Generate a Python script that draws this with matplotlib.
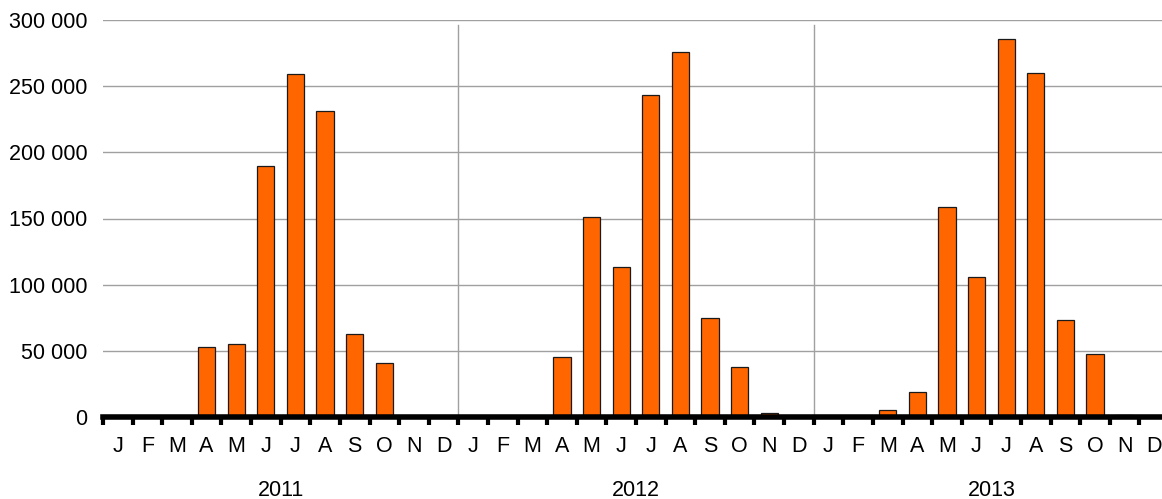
import numpy as np
import matplotlib
matplotlib.use("Agg")
import matplotlib.pyplot as plt
from matplotlib.ticker import FuncFormatter, FixedLocator

plt.rcParams["font.family"] = ["Liberation Sans", "DejaVu Sans"]

YEARS = ["2011", "2012", "2013"]
MONTH_LETTERS = ["J", "F", "M", "A", "M", "J", "J", "A", "S", "O", "N", "D"]

VALUES_2011 = [0, 0, 0, 53000, 55000, 190000, 259000, 231000, 63000, 41000, 0, 0]
VALUES_2012 = [0, 0, 0, 45000, 151000, 113000, 243000, 276000, 75000, 38000, 3000, 0]
VALUES_2013 = [0, 0, 5000, 19000, 159000, 106000, 286000, 260000, 73000, 47500, 1500, 0]

BAR_COLOR = "#ff6600"
GRID_COLOR = "#a0a0a0"
FS = 15.5


def space_thousands(v, _pos):
    return f"{int(v):,}".replace(",", " ")


def main():
    values = VALUES_2011 + VALUES_2012 + VALUES_2013
    n = len(values)
    x = np.arange(n) + 0.5

    fig = plt.figure(figsize=(11.62, 4.99), dpi=100)
    ax = fig.add_axes([103 / 1162, 82 / 499, 1066 / 1162, 397 / 499])

    ax.bar(x, values, width=0.58, color=BAR_COLOR, edgecolor="#1a1a1a",
           linewidth=0.9, zorder=3)

    ax.set_xlim(0, n)
    ax.set_ylim(0, 300000)

    ax.set_yticks(np.arange(0, 300001, 50000))
    ax.yaxis.set_major_formatter(FuncFormatter(space_thousands))
    ax.tick_params(axis="y", length=0, pad=11, labelsize=FS)
    ax.grid(axis="y", color=GRID_COLOR, linewidth=1.0, zorder=0)

    # year separators
    for xs in (12, 24):
        ax.plot([xs, xs], [0, 296000], color=GRID_COLOR, linewidth=1.0, zorder=1)

    ax.xaxis.set_major_locator(FixedLocator(x))
    ax.set_xticklabels(MONTH_LETTERS * len(YEARS))
    ax.xaxis.set_minor_locator(FixedLocator(np.arange(0, n + 1)))
    ax.tick_params(axis="x", which="major", length=0, pad=14, labelsize=FS)
    ax.tick_params(axis="x", which="minor", length=5.5, width=3, color="black")

    for i, year in enumerate(YEARS):
        ax.text(12 * i + 6, -0.184, year, transform=ax.get_xaxis_transform(),
                ha="center", va="center", fontsize=FS)

    for side in ("left", "right", "top"):
        ax.spines[side].set_visible(False)
    ax.spines["bottom"].set_linewidth(4)
    ax.spines["bottom"].set_zorder(4)

    fig.savefig("out.png", dpi=100)
    plt.close(fig)


if __name__ == "__main__":
    main()
